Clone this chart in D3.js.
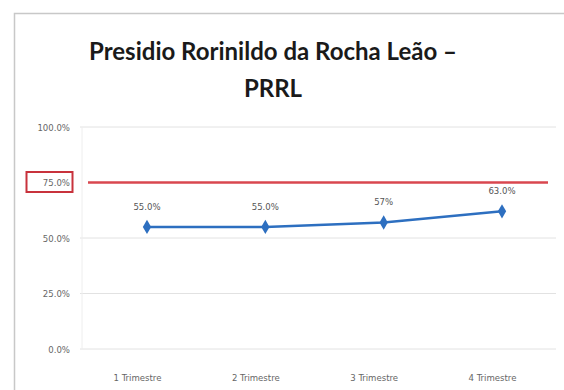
<!DOCTYPE html>
<html><head><meta charset="utf-8">
<script src="https://cdn.jsdelivr.net/npm/d3@7"></script>
<style>body{margin:0;background:#fff}svg{display:block}</style>
</head><body>
<svg id="c" width="564" height="390"></svg>
<script>
const categories = ["1 Trimestre", "2 Trimestre", "3 Trimestre", "4 Trimestre"];
const values = [55, 55, 57, 62];
const valueLabels = ["55.0%", "55.0%", "57%", "63.0%"];
const targetValue = 75;
const yTicks = [0, 25, 50, 75, 100];
const yTickLabels = ["0.0%", "25.0%", "50.0%", "75.0%", "100.0%"];
const titleLines = ["Presidio Rorinildo da Rocha Leão –", "PRRL"];

const svg = d3.select("#c");
svg.append("path").attr("d","M14.5,390 L14.5,13.5 L564,13.5").attr("fill","none").attr("stroke","#c8c8c8").attr("stroke-width",1.5);

const x = d3.scalePoint().domain(categories).range([147, 502]).padding(0);
const y = d3.scaleLinear().domain([0,100]).range([349, 127]);

svg.append("g").selectAll("text").data(titleLines).join("text")
  .attr("x", 273).attr("y",(d,i)=>60+i*37).attr("text-anchor","middle")
  .attr("font-family","Lato, 'Open Sans', sans-serif").attr("font-weight","bold")
  .attr("font-size",24).attr("fill","#1a1a1a").text(d=>d);

svg.append("g").selectAll("line").data(yTicks.filter(t=>t!==75)).join("line")
  .attr("x1",80).attr("x2",556).attr("y1",d=>y(d)).attr("y2",d=>y(d))
  .attr("stroke","#e2e2e2").attr("stroke-width",1);
svg.append("line").attr("x1",82).attr("x2",82).attr("y1",y(100)).attr("y2",y(0)).attr("stroke","#eeeeee");

const yAxis = d3.axisLeft(y).tickValues(yTicks).tickSize(0).tickPadding(0)
  .tickFormat(d=>yTickLabels[yTicks.indexOf(d)]);
const ga = svg.append("g").attr("transform","translate(70,0)").call(yAxis);
ga.select(".domain").remove();
ga.selectAll("text").attr("font-family","'DejaVu Sans Condensed', 'Liberation Sans Narrow', sans-serif")
  .attr("font-size",9.5).attr("fill","#666");

svg.append("rect").attr("x",26.5).attr("y",y(75)-10.5).attr("width",46).attr("height",20)
  .attr("fill","none").attr("stroke","#c8323c").attr("stroke-width",2);

const xAxis = d3.axisBottom(x).tickSize(0).tickPadding(0);
const gx = svg.append("g").attr("transform","translate(-10,374)").call(xAxis);
gx.select(".domain").remove();
gx.selectAll("text").attr("font-family","'DejaVu Sans Condensed', 'Liberation Sans Narrow', sans-serif")
  .attr("font-size",9.5).attr("fill","#666");

svg.append("line").attr("x1",88).attr("x2",548).attr("y1",y(targetValue)).attr("y2",y(targetValue))
  .attr("stroke","#d9474f").attr("stroke-width",2.5);

const line = d3.line().x((d,i)=>x(categories[i])).y(d=>y(d));
svg.append("path").datum(values).attr("d",line).attr("fill","none")
  .attr("stroke","#2d6fc0").attr("stroke-width",2.5);
svg.append("g").selectAll("path").data(values).join("path")
  .attr("transform",(d,i)=>`translate(${x(categories[i])},${y(d)})`)
  .attr("d",d3.symbol(d3.symbolDiamond,60)).attr("fill","#2d6fc0");

svg.append("g").selectAll("text").data(values).join("text")
  .attr("x",(d,i)=>x(categories[i])).attr("y",d=>y(d)-17)
  .attr("text-anchor","middle")
  .attr("font-family","'DejaVu Sans Condensed', 'Liberation Sans Narrow', sans-serif")
  .attr("font-size",9.5).attr("fill","#555").text((d,i)=>valueLabels[i]);
</script>
</body></html>
